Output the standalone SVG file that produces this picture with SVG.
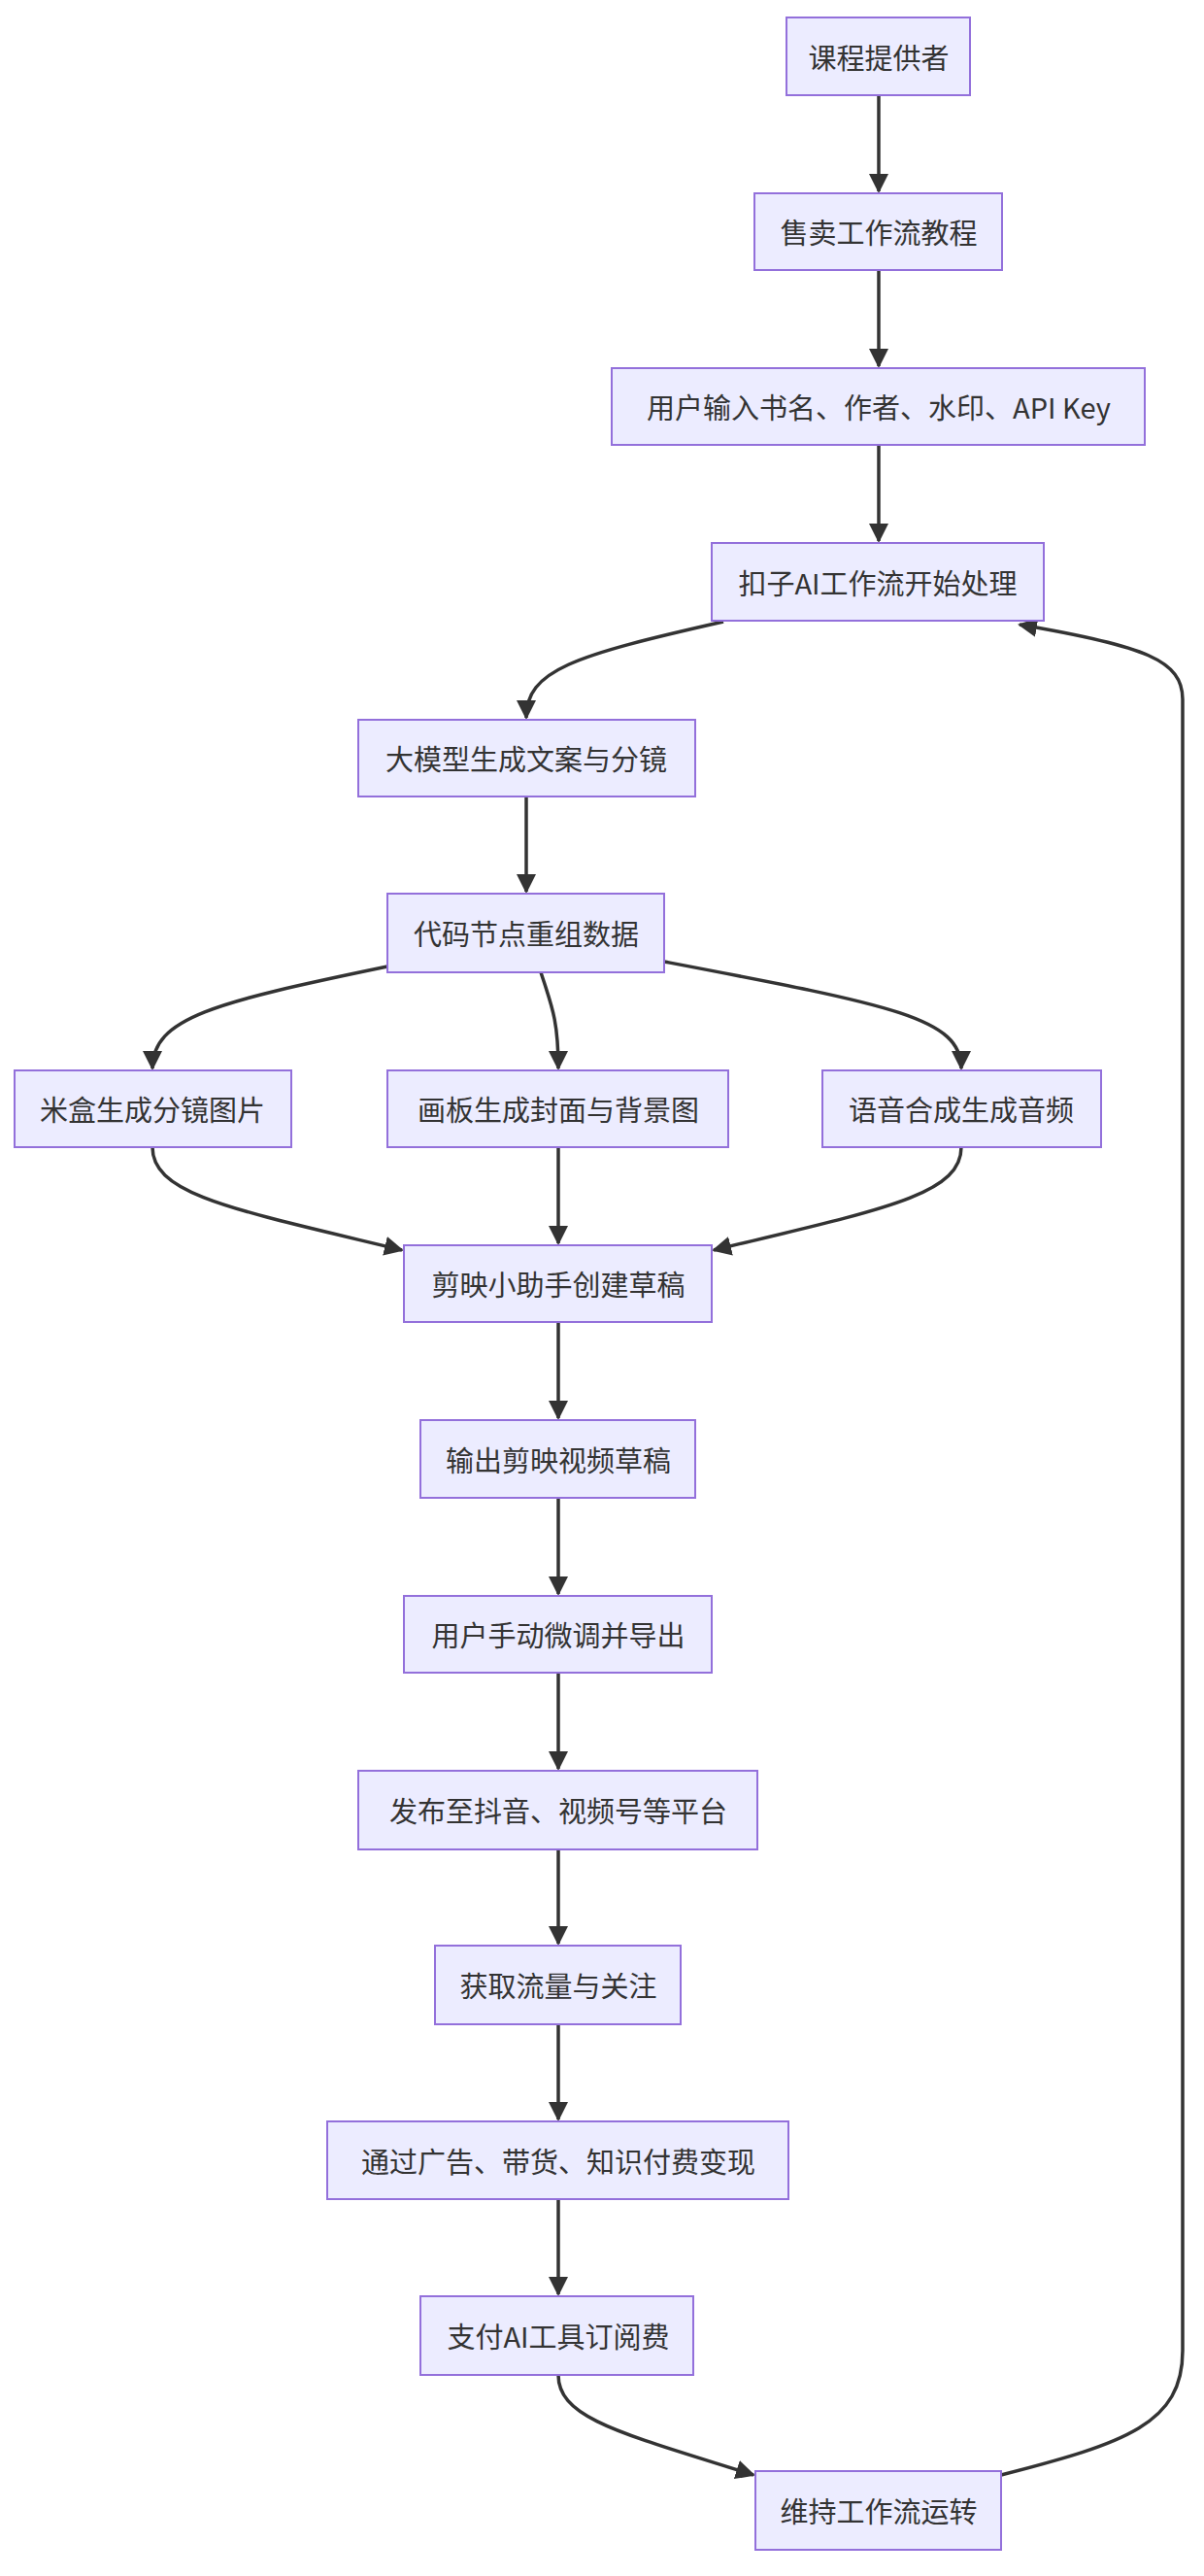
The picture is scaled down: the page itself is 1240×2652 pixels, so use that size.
<svg xmlns="http://www.w3.org/2000/svg" width="1240" height="2652" viewBox="0 0 1240 2652">
<style>
.n rect{fill:#ECECFF;stroke:#9370DB;stroke-width:2}
.n text{font-family:"Noto Sans CJK SC","Noto Sans",sans-serif;font-size:29px;fill:#333;text-anchor:middle;dominant-baseline:central}
.e path{fill:none;stroke:#333;stroke-width:3.5}
</style>
<defs>
<marker id="a" markerUnits="userSpaceOnUse" markerWidth="22" markerHeight="22" refX="18" refY="10" orient="auto">
<path d="M0,0 L20,10 L0,20 z" fill="#333"/>
</marker>
</defs>
<rect width="1240" height="2652" fill="#fff"/>
<g class="e">
<path d="M905,98 V197" marker-end="url(#a)"/>
<path d="M905,278 V377" marker-end="url(#a)"/>
<path d="M905,458 V557" marker-end="url(#a)"/>
<path d="M745,640 C590,675 542,690 542,739" marker-end="url(#a)"/>
<path d="M542,820 V918" marker-end="url(#a)"/>
<path d="M399,995 C220,1032 157,1048 157,1100" marker-end="url(#a)"/>
<path d="M557,1001 C568,1035 575,1050 575,1100" marker-end="url(#a)"/>
<path d="M684,990 C920,1035 990,1048 990,1100" marker-end="url(#a)"/>
<path d="M157,1181 C157,1230 240,1245 414,1287" marker-end="url(#a)"/>
<path d="M575,1181 V1280" marker-end="url(#a)"/>
<path d="M990,1181 C990,1230 910,1245 735,1287" marker-end="url(#a)"/>
<path d="M575,1361 V1460" marker-end="url(#a)"/>
<path d="M575,1542 V1641" marker-end="url(#a)"/>
<path d="M575,1722 V1821" marker-end="url(#a)"/>
<path d="M575,1904 V2001" marker-end="url(#a)"/>
<path d="M575,2084 V2182" marker-end="url(#a)"/>
<path d="M575,2264 V2362" marker-end="url(#a)"/>
<path d="M575,2445 C575,2490 640,2505 776,2548" marker-end="url(#a)"/>
<path d="M1031,2548 C1160,2515 1218,2495 1218,2420 V720 C1218,680 1180,665 1050,643" marker-end="url(#a)"/>
</g>
<g id="n1" class="n"><rect x="810" y="18" width="189" height="80"/><text x="905" y="58">课程提供者</text></g>
<g id="n2" class="n"><rect x="777" y="199" width="255" height="79"/><text x="905" y="238">售卖工作流教程</text></g>
<g id="n3" class="n"><rect x="630" y="379" width="549" height="79"/><text x="905" y="418">用户输入书名、作者、水印、API Key</text></g>
<g id="n4" class="n"><rect x="733" y="559" width="342" height="80"/><text x="904" y="599">扣子AI工作流开始处理</text></g>
<g id="n5" class="n"><rect x="369" y="741" width="347" height="79"/><text x="542" y="780">大模型生成文案与分镜</text></g>
<g id="n6" class="n"><rect x="399" y="920" width="285" height="81"/><text x="542" y="960">代码节点重组数据</text></g>
<g id="n7" class="n"><rect x="15" y="1102" width="285" height="79"/><text x="157" y="1141">米盒生成分镜图片</text></g>
<g id="n8" class="n"><rect x="399" y="1102" width="351" height="79"/><text x="575" y="1141">画板生成封面与背景图</text></g>
<g id="n9" class="n"><rect x="847" y="1102" width="287" height="79"/><text x="990" y="1141">语音合成生成音频</text></g>
<g id="n10" class="n"><rect x="416" y="1282" width="317" height="79"/><text x="575" y="1321">剪映小助手创建草稿</text></g>
<g id="n11" class="n"><rect x="433" y="1462" width="283" height="80"/><text x="575" y="1502">输出剪映视频草稿</text></g>
<g id="n12" class="n"><rect x="416" y="1643" width="317" height="79"/><text x="575" y="1682">用户手动微调并导出</text></g>
<g id="n13" class="n"><rect x="369" y="1823" width="411" height="81"/><text x="575" y="1863">发布至抖音、视频号等平台</text></g>
<g id="n14" class="n"><rect x="448" y="2003" width="253" height="81"/><text x="575" y="2043">获取流量与关注</text></g>
<g id="n15" class="n"><rect x="337" y="2184" width="475" height="80"/><text x="575" y="2224">通过广告、带货、知识付费变现</text></g>
<g id="n16" class="n"><rect x="433" y="2364" width="281" height="81"/><text x="575" y="2404">支付AI工具订阅费</text></g>
<g id="n17" class="n"><rect x="778" y="2544" width="253" height="81"/><text x="905" y="2584">维持工作流运转</text></g>
</svg>
